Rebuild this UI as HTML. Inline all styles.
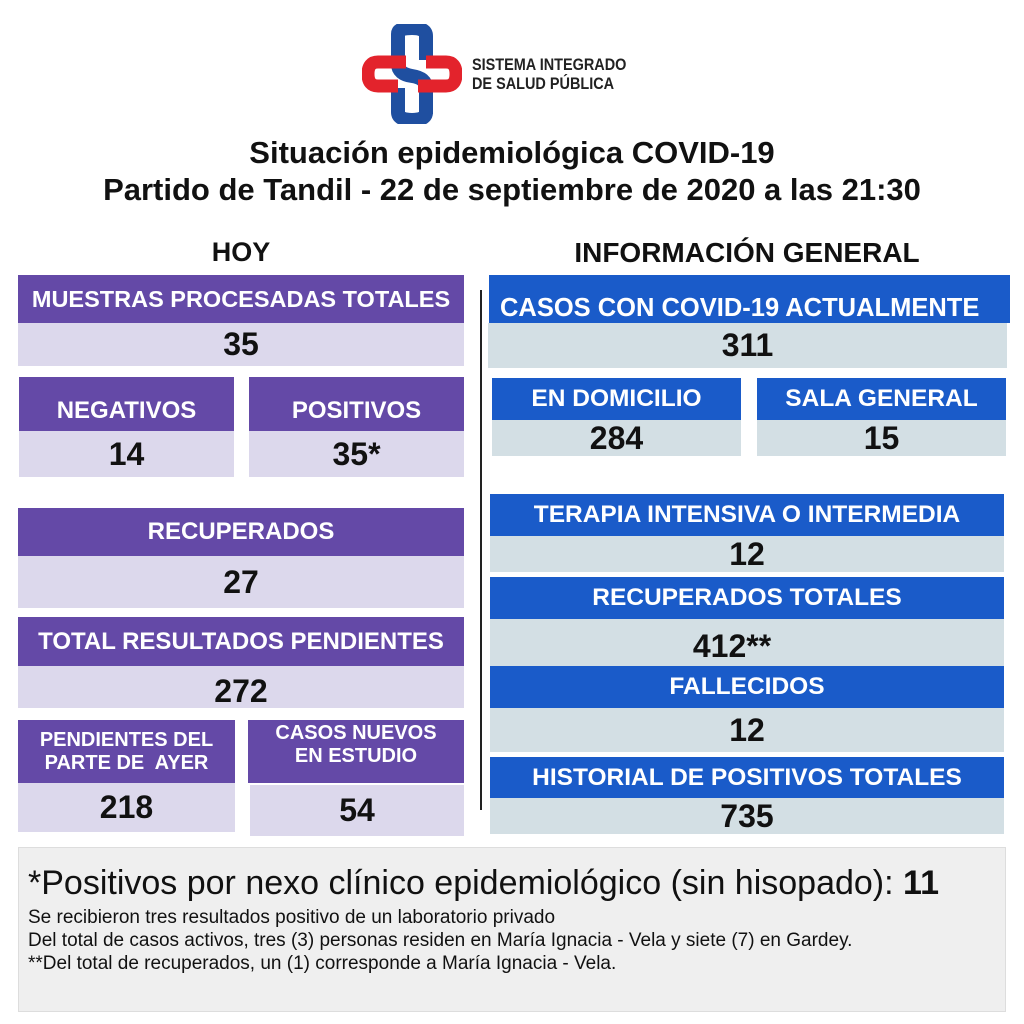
<!DOCTYPE html>
<html><head><meta charset="utf-8"><style>
body{margin:0;width:1024px;height:1024px;background:#fff;position:relative;overflow:hidden;font-family:"Liberation Sans",Arial,sans-serif}
.b{position:absolute;display:flex;align-items:center;justify-content:center;text-align:center;font-weight:bold;box-sizing:border-box;white-space:nowrap}
.p{background:#6449a7;color:#fff;font-size:24px}
.pv{background:#dcd8ec;color:#111;font-size:32px}
.u{background:#1a5bc9;color:#fff;font-size:24.5px}
.uv{background:#d3dfe4;color:#111;font-size:32px}
.t{position:absolute;font-weight:bold;color:#111;white-space:nowrap}
</style></head><body>
<svg style="position:absolute;left:362px;top:24px" width="100" height="100" viewBox="0 0 100 100">
<path d="M36 10 Q36 4 50 4 Q64 4 64 12 L64 36" fill="none" stroke="#1f4fa0" stroke-width="14"/>
<path d="M36 64 L36 88 Q36 96 50 96 Q64 96 64 88" fill="none" stroke="#1f4fa0" stroke-width="14"/>
<path d="M36 10 L36 40 Q36 50 50 52 Q64 54 64 64 L64 90" fill="none" stroke="#1f4fa0" stroke-width="14"/>
<path d="M44 38 L16 38 Q6 38 6 50 Q6 62 16 62 L36 62" fill="none" stroke="#e3232c" stroke-width="13"/>
<path d="M56 62 L84 62 Q94 62 94 50 Q94 38 84 38 L64 38" fill="none" stroke="#e3232c" stroke-width="13"/>
</svg>
<div class="t" style="left:472px;top:55px;font-size:17px;line-height:19px;color:#222;transform:scaleX(.85);transform-origin:left">SISTEMA INTEGRADO<br>DE SALUD PÚBLICA</div>
<div class="t" style="left:0;width:1024px;text-align:center;top:134px;font-size:31px;line-height:37px">Situación epidemiológica COVID-19<br>Partido de Tandil - 22 de septiembre de 2020 a las 21:30</div>
<div class="t" style="left:18px;width:446px;text-align:center;top:237px;font-size:27px">HOY</div>
<div class="t" style="left:490px;width:514px;text-align:center;top:237px;font-size:28px">INFORMACIÓN GENERAL</div>
<div style="position:absolute;left:480px;top:290px;width:2px;height:520px;background:#222"></div>

<div class="b p" style="left:18px;top:275px;width:446px;height:48px;font-size:23.5px">MUESTRAS PROCESADAS TOTALES</div>
<div class="b pv" style="left:18px;top:323px;width:446px;height:43px">35</div>
<div class="b p" style="left:19px;top:377px;width:215px;height:54px;padding-top:14px">NEGATIVOS</div>
<div class="b pv" style="left:19px;top:431px;width:215px;height:46px">14</div>
<div class="b p" style="left:249px;top:377px;width:215px;height:54px;padding-top:14px">POSITIVOS</div>
<div class="b pv" style="left:249px;top:431px;width:215px;height:46px">35*</div>
<div class="b p" style="left:18px;top:508px;width:446px;height:48px">RECUPERADOS</div>
<div class="b pv" style="left:18px;top:556px;width:446px;height:52px">27</div>
<div class="b p" style="left:18px;top:617px;width:446px;height:49px">TOTAL RESULTADOS PENDIENTES</div>
<div class="b pv" style="left:18px;top:666px;width:446px;height:42px;padding-top:8px">272</div>
<div class="b p" style="left:18px;top:720px;width:217px;height:63px;font-size:20px;line-height:23px">PENDIENTES DEL<br>PARTE DE&nbsp; AYER</div>
<div class="b pv" style="left:18px;top:783px;width:217px;height:49px">218</div>
<div class="b p" style="left:248px;top:720px;width:216px;height:63px;font-size:20px;line-height:23px;padding-bottom:14px">CASOS NUEVOS<br>EN ESTUDIO</div>
<div class="b pv" style="left:250px;top:785px;width:214px;height:51px">54</div>

<div class="b u" style="left:489px;top:275px;width:521px;height:48px;padding-top:18px;justify-content:flex-start;padding-left:11px;font-size:25.5px">CASOS CON COVID-19 ACTUALMENTE</div>
<div class="b uv" style="left:488px;top:323px;width:519px;height:45px">311</div>
<div class="b u" style="left:492px;top:378px;width:249px;height:42px">EN DOMICILIO</div>
<div class="b uv" style="left:492px;top:420px;width:249px;height:36px">284</div>
<div class="b u" style="left:757px;top:378px;width:249px;height:42px">SALA GENERAL</div>
<div class="b uv" style="left:757px;top:420px;width:249px;height:36px">15</div>
<div class="b u" style="left:490px;top:494px;width:514px;height:42px">TERAPIA INTENSIVA O INTERMEDIA</div>
<div class="b uv" style="left:490px;top:536px;width:514px;height:36px">12</div>
<div class="b u" style="left:490px;top:577px;width:514px;height:42px">RECUPERADOS TOTALES</div>
<div class="b uv" style="left:490px;top:619px;width:514px;height:47px;padding-top:8px;padding-right:30px">412**</div>
<div class="b u" style="left:490px;top:666px;width:514px;height:42px">FALLECIDOS</div>
<div class="b uv" style="left:490px;top:708px;width:514px;height:44px">12</div>
<div class="b u" style="left:490px;top:757px;width:514px;height:41px">HISTORIAL DE POSITIVOS TOTALES</div>
<div class="b uv" style="left:490px;top:798px;width:514px;height:36px">735</div>

<div style="position:absolute;left:18px;top:847px;width:988px;height:165px;background:#efefef;border:1px solid #ddd;box-sizing:border-box"></div>
<div class="t" style="left:28px;top:864px;font-size:34px;font-weight:normal">*Positivos por nexo clínico epidemiológico (sin hisopado): <b>11</b></div>
<div class="t" style="left:28px;top:906px;font-size:19px;font-weight:normal;line-height:23px">Se recibieron tres resultados positivo de un laboratorio privado<br>Del total de casos activos, tres (3) personas residen en María Ignacia - Vela y siete (7) en Gardey.<br>**Del total de recuperados, un (1) corresponde a María Ignacia - Vela.</div>
</body></html>
